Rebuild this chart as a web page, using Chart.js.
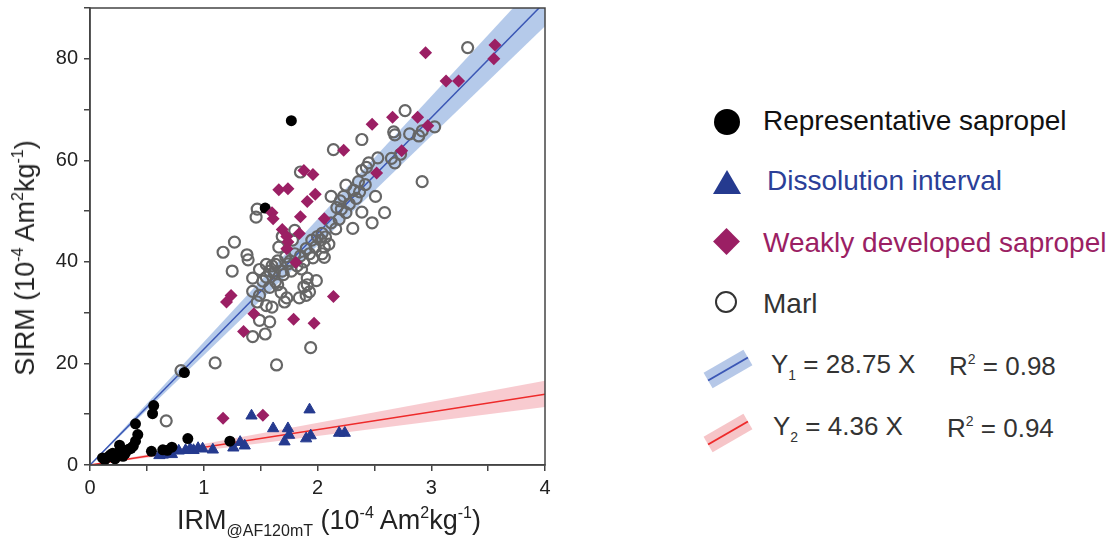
<!DOCTYPE html>
<html>
<head>
    <title>SIRM vs IRM</title>
    <style>
        body { margin: 0; background: #fff; font-family: "Liberation Sans", Arial, sans-serif; }
        #wrap { position: relative; width: 1119px; height: 539px; overflow: hidden; }
        #chart { position: absolute; left: 0; top: 0; }
        .ttl { position: absolute; color: #222; font-size: 27px; white-space: nowrap; }
        .ttl sup { font-size: 16px; vertical-align: 11px; }
        .ttl sub { font-size: 16px; vertical-align: -7px; }
        #ytitle { left: 25px; top: 258px; transform: translate(-50%, -50%) rotate(-90deg); }
        #xtitle { left: 329px; top: 522px; transform: translate(-50%, -50%); }
        .lg { position: absolute; font-size: 28px; white-space: nowrap; transform: translateY(-50%); }
        .eq { position: absolute; font-size: 26px; color: #333; white-space: nowrap; transform: translateY(-50%); }
        .eq sub { font-size: 14px; vertical-align: -7px; }
        .eq sup { font-size: 14px; vertical-align: 11px; }
        .sym { position: absolute; }
    </style>
</head>
<body>
<div id="wrap">
    <canvas id="chart" width="560" height="539"></canvas>
    <div class="ttl" id="ytitle">SIRM (10<sup>-4</sup> Am<sup>2</sup>kg<sup>-1</sup>)</div>
    <div class="ttl" id="xtitle">IRM<sub>@AF120mT</sub> (10<sup>-4</sup> Am<sup>2</sup>kg<sup>-1</sup>)</div>

    <div class="sym" style="left:714px;top:109px;width:26px;height:26px;border-radius:50%;background:#000;"></div>
    <div class="lg" style="left:763px;top:121px;color:#111;">Representative sapropel</div>

    <div class="sym" style="left:713px;top:170px;width:0;height:0;border-left:14px solid transparent;border-right:14px solid transparent;border-bottom:24px solid #253a8f;"></div>
    <div class="lg" style="left:767px;top:181px;color:#2b3f98;">Dissolution interval</div>

    <div class="sym" style="left:717px;top:232px;width:19px;height:19px;background:#9b1f64;transform:rotate(45deg);"></div>
    <div class="lg" style="left:763px;top:243px;color:#9b1f64;">Weakly developed sapropel</div>

    <div class="sym" style="left:715px;top:291px;width:18px;height:18px;border-radius:50%;border:2.5px solid #333;"></div>
    <div class="lg" style="left:763px;top:304px;color:#333;">Marl</div>

    <div class="sym" style="left:705px;top:360px;width:46px;height:18px;background:#b6c8e8;transform:rotate(-30deg);">
        <div style="position:absolute;left:0;top:8px;width:46px;height:1.5px;background:#3b57b5;"></div>
    </div>
    <div class="eq" style="left:771px;top:366px;">Y<sub>1</sub> = 28.75 X</div>
    <div class="eq" style="left:949px;top:366px;">R<sup>2</sup> = 0.98</div>

    <div class="sym" style="left:705px;top:424px;width:46px;height:18px;background:#f6c5c8;transform:rotate(-30deg);">
        <div style="position:absolute;left:0;top:8px;width:46px;height:1.5px;background:#ee2a2a;"></div>
    </div>
    <div class="eq" style="left:773px;top:428px;">Y<sub>2</sub> = 4.36 X</div>
    <div class="eq" style="left:947px;top:428px;">R<sup>2</sup> = 0.94</div>
</div>

<script src="https://cdn.jsdelivr.net/npm/chart.js"></script>
<script>
    // data: [IRM@AF120mT, SIRM]
    var sapropel = [[1.77,67.8],[1.54,50.6],[0.83,18.2],[0.56,11.7],[0.55,10.1],[0.40,8.1],[0.42,6.0],[0.40,4.7],
        [0.38,3.7],[0.26,3.9],[0.26,2.7],[0.34,3.1],[0.31,2.3],[0.20,2.3],[0.23,1.8],[0.16,1.6],[0.13,1.0],[0.11,1.4],
        [0.22,1.2],[0.29,1.7],[0.54,2.7],[0.64,3.0],[0.72,3.5],[0.68,2.9],[0.86,5.2],[1.23,4.7],[0.18,2.0],[0.36,3.3]];

    var dissolution = [[0.61,1.9],[0.64,2.0],[0.66,2.2],[0.72,2.1],[0.70,2.6],[0.78,2.8],[0.84,2.9],[0.88,3.2],
        [0.91,2.9],[0.95,3.3],[0.99,3.2],[1.08,3.0],[1.26,3.4],[1.32,4.5],[1.36,3.8],[1.42,9.7],[1.61,7.2],[1.74,7.2],
        [1.75,5.9],[1.71,4.6],[1.90,5.2],[1.94,5.8],[1.93,10.9],[2.19,6.3],[2.24,6.3]];

    var weakSapropel = [[2.95,81.2],[3.56,82.7],[3.55,80.0],[3.13,75.6],[3.24,75.6],[2.48,67.1],[2.66,68.5],[2.88,68.5],
        [2.97,66.8],[2.23,62.0],[2.74,61.9],[2.52,57.5],[1.88,58.0],[1.96,57.2],[1.66,54.2],[1.74,54.4],[1.98,53.3],
        [1.91,51.9],[1.60,49.7],[1.61,48.5],[1.85,48.9],[2.06,48.5],[1.69,46.4],[1.84,45.6],[1.73,45.0],[1.74,43.9],
        [1.73,42.6],[1.81,39.9],[1.24,33.4],[1.20,32.1],[2.14,33.2],[1.44,29.8],[1.79,28.7],[1.97,27.9],[1.35,26.3],
        [1.17,9.2],[1.52,9.8]];

    var marl = [[3.32,82.2],[2.77,69.8],[2.67,65.6],[2.68,65.0],[2.81,65.2],[2.89,64.8],[2.92,65.8],[3.03,66.6],
        [2.39,64.1],[2.14,62.1],[2.53,60.5],[2.45,59.5],[2.39,58.0],[2.43,58.6],[2.65,60.4],[2.68,59.5],[2.73,61.2],
        [2.92,55.8],[1.85,57.7],[2.36,55.8],[2.25,55.1],[2.32,54.1],[2.37,53.8],[2.12,52.9],[2.23,52.9],[2.34,52.5],
        [2.51,52.9],[2.17,50.7],[2.21,50.4],[2.25,49.7],[2.39,49.8],[2.59,49.7],[2.48,47.7],[2.19,48.4],[2.12,47.7],
        [2.31,46.6],[1.47,50.4],[1.46,48.8],[2.04,45.6],[2.07,44.9],[2.03,44.3],[1.95,44.3],[1.98,42.9],[2.06,42.9],
        [2.10,43.5],[2.04,41.6],[2.06,40.9],[1.90,42.6],[1.93,41.6],[1.85,41.2],[1.80,41.6],[1.76,40.2],[1.82,39.2],
        [1.65,40.2],[1.60,39.2],[1.69,38.2],[1.77,38.2],[1.70,37.5],[1.66,42.9],[1.69,45.0],[1.78,44.3],[1.80,46.2],
        [1.17,41.9],[1.27,43.9],[1.38,41.4],[1.39,40.4],[1.25,38.2],[1.55,39.5],[1.58,38.2],[1.63,39.5],[1.43,36.8],
        [1.49,38.5],[1.63,36.1],[1.65,35.5],[1.43,34.2],[1.49,33.4],[1.47,32.1],[1.55,31.4],[1.60,31.1],[1.71,32.1],
        [1.73,32.9],[1.84,32.9],[1.91,36.8],[1.99,36.3],[1.91,35.5],[1.88,35.1],[1.93,34.1],[1.90,33.4],[1.49,28.5],
        [1.58,28.2],[1.43,25.3],[1.54,25.8],[1.94,23.1],[1.10,20.1],[1.64,19.7],[0.80,18.6],[0.67,8.7],
        [1.72,41.0],[1.74,39.6],[1.86,38.6],[1.88,40.0],[1.96,40.8],[2.00,45.0],[1.62,37.8],[1.55,37.0],[1.52,36.2],
        [1.58,35.0],[1.68,34.0],[2.20,52.0],[2.28,51.4],[2.42,55.2],[2.16,46.5]];

    // fitted lines as drawn (slope of the line, band slopes low / high)
    var fit1 = { slope: 22.8, low: 21.6, high: 24.2 };
    var fit2 = { slope: 3.48, low: 2.85, high: 4.15 };
    var xEnd = 4;

    function pts(arr) {
        return arr.map(function (p) { return { x: p[0], y: p[1] }; });
    }
    function ray(k) {
        return [{ x: 0, y: 0 }, { x: xEnd, y: k * xEnd }];
    }

    var frame = {
        id: 'frame',
        afterDraw: function (chart) {
            var a = chart.chartArea, c = chart.ctx;
            c.save();
            c.strokeStyle = '#444';
            c.lineWidth = 1.5;
            c.strokeRect(a.left, a.top, a.right - a.left, a.bottom - a.top);
            c.restore();
        }
    };

    var ctx = document.getElementById('chart').getContext('2d');
    new Chart(ctx, {
        type: 'scatter',
        data: {
            datasets: [
                { data: ray(fit1.high), showLine: true, fill: '+1', backgroundColor: 'rgba(120,158,216,0.55)', borderWidth: 0, pointRadius: 0, order: 20 },
                { data: ray(fit1.low), showLine: true, fill: false, borderWidth: 0, pointRadius: 0, order: 20 },
                { data: ray(fit1.slope), showLine: true, borderColor: '#3b57b5', borderWidth: 1.5, pointRadius: 0, order: 15 },
                { data: ray(fit2.high), showLine: true, fill: '+1', backgroundColor: 'rgba(240,140,150,0.45)', borderWidth: 0, pointRadius: 0, order: 20 },
                { data: ray(fit2.low), showLine: true, fill: false, borderWidth: 0, pointRadius: 0, order: 20 },
                { data: ray(fit2.slope), showLine: true, borderColor: '#ee2a2a', borderWidth: 1.5, pointRadius: 0, order: 15 },
                { label: 'Marl', data: pts(marl), pointStyle: 'circle', pointRadius: 5.5, borderColor: '#666', borderWidth: 2.2, backgroundColor: 'rgba(0,0,0,0)', order: 8 },
                { label: 'Dissolution interval', data: pts(dissolution), pointStyle: 'triangle', pointRadius: 6.5, borderColor: '#253a8f', borderWidth: 1, backgroundColor: '#253a8f', order: 6 },
                { label: 'Representative sapropel', data: pts(sapropel), pointStyle: 'circle', pointRadius: 5.5, borderColor: '#000', borderWidth: 0, backgroundColor: '#000', order: 5 },
                { label: 'Weakly developed sapropel', data: pts(weakSapropel), pointStyle: 'rectRot', pointRadius: 6.5, borderColor: '#9b1f64', borderWidth: 0, backgroundColor: '#9b1f64', order: 4 }
            ]
        },
        options: {
            responsive: false,
            animation: false,
            layout: { padding: { top: 8, right: 15, left: 0, bottom: 0 } },
            plugins: { legend: { display: false }, tooltip: { enabled: false } },
            scales: {
                x: {
                    type: 'linear', min: 0, max: 4,
                    afterFit: function (s) { s.height = 74; },
                    border: { display: true, color: '#444', width: 1.5 },
                    grid: { drawOnChartArea: false, drawTicks: true, tickLength: 6, color: '#444', lineWidth: 1.5 },
                    ticks: {
                        stepSize: 0.5, padding: 5, color: '#222', maxRotation: 0, autoSkip: false,
                        font: { family: 'Liberation Sans', size: 20 },
                        callback: function (v) { return Number.isInteger(v) ? v : ''; }
                    }
                },
                y: {
                    type: 'linear', min: 0, max: 90,
                    afterFit: function (s) { s.width = 90; s.paddingTop = 0; s.paddingBottom = 0; },
                    border: { display: true, color: '#444', width: 1.5 },
                    grid: { drawOnChartArea: false, drawTicks: true, tickLength: 6, color: '#444', lineWidth: 1.5 },
                    ticks: {
                        stepSize: 10, padding: 6, color: '#222', autoSkip: false,
                        font: { family: 'Liberation Sans', size: 20 },
                        callback: function (v) { return (v % 20 === 0 && v <= 80) ? v : ''; }
                    }
                }
            }
        },
        plugins: [frame]
    });
</script>
</body>
</html>
